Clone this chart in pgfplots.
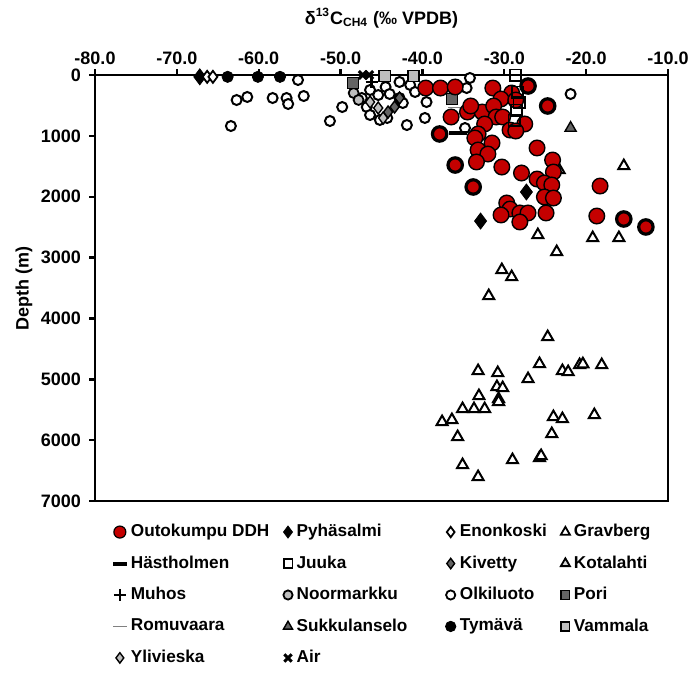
\documentclass[border=0pt]{standalone}
\usepackage{fontspec}
\setmainfont{Liberation Sans}
\usepackage{pgfplots}
\pgfplotsset{compat=1.18}
\definecolor{redc}{RGB}{196,0,0}
\definecolor{dgray}{RGB}{100,100,100}
\definecolor{lgray}{RGB}{190,190,190}
\definecolor{vlgray}{RGB}{215,215,215}
\begin{document}
\begin{tikzpicture}
\begin{axis}[
  scale only axis, width=286.5pt, height=213pt,
  xmin=-80, xmax=-10, ymin=0, ymax=7000, y dir=reverse,
  xtick={-80,-70,-60,-50,-40,-30,-20,-10},
  xticklabels={-80.0,-70.0,-60.0,-50.0,-40.0,-30.0,-20.0,-10.0},
  xticklabel pos=upper, xtick pos=upper,
  ytick={0,1000,2000,3000,4000,5000,6000,7000},
  yticklabels={0,1000,2000,3000,4000,5000,6000,7000},
  ytick pos=left,
  tick align=outside, major tick length=3pt,
  axis line style={line width=1.2pt},
  every tick/.style={black, line width=1.2pt},
  ticklabel style={font=\bfseries\fontsize{9}{10}\selectfont, inner sep=1pt},
  xticklabel style={yshift=1pt},
  yticklabel style={xshift=-2.8pt},
  xlabel={δ\textsuperscript{13}C\textsubscript{CH4} (‰ VPDB)},
  ylabel={Depth (m)},
  label style={font=\bfseries\fontsize{9}{10}\selectfont},
  xlabel style={yshift=7.5pt},
  ylabel style={yshift=-0.2pt},
  clip=false,
  legend columns=4,
  legend cell align=left,
  legend style={draw=none, fill=none, at={(0.02,-0.035)}, anchor=north west,
    font=\bfseries\fontsize{8.6}{10}\selectfont,
    /tikz/every even column/.append style={column sep=5pt},
    row sep=4pt},
]
% legend images
\addlegendimage{only marks, mark=*, mark size=3pt, mark options={fill=redc, draw=black, line width=0.6pt}}
\addlegendentry{Outokumpu DDH}
\addlegendimage{only marks, mark=diamond*, mark size=3pt, mark options={fill=black, draw=black}}
\addlegendentry{Pyhäsalmi}
\addlegendimage{only marks, mark=diamond*, mark size=2.6pt, mark options={fill=white, draw=black, line width=0.9pt}}
\addlegendentry{Enonkoski}
\addlegendimage{only marks, mark=triangle*, mark size=2.6pt, mark options={fill=white, draw=black, line width=0.9pt}}
\addlegendentry{Gravberg}
\addlegendimage{only marks, mark=-, mark size=3.5pt, mark options={draw=black, line width=2pt}}
\addlegendentry{Hästholmen}
\addlegendimage{only marks, mark=square*, mark size=2.2pt, mark options={fill=white, draw=black, line width=0.9pt}}
\addlegendentry{Juuka}
\addlegendimage{only marks, mark=diamond*, mark size=2.6pt, mark options={fill=dgray, draw=black, line width=0.7pt}}
\addlegendentry{Kivetty}
\addlegendimage{only marks, mark=triangle*, mark size=2.6pt, mark options={fill=vlgray, draw=black, line width=0.9pt}}
\addlegendentry{Kotalahti}
\addlegendimage{only marks, mark=+, mark size=3pt, mark options={draw=black, line width=1.3pt}}
\addlegendentry{Muhos}
\addlegendimage{only marks, mark=*, mark size=2.3pt, mark options={fill=lgray, draw=black, line width=0.9pt}}
\addlegendentry{Noormarkku}
\addlegendimage{only marks, mark=*, mark size=2.3pt, mark options={fill=white, draw=black, line width=0.9pt}}
\addlegendentry{Olkiluoto}
\addlegendimage{only marks, mark=square*, mark size=2.2pt, mark options={fill=dgray, draw=black, line width=0.7pt}}
\addlegendentry{Pori}
\addlegendimage{only marks, mark=-, mark size=3.5pt, mark options={draw=gray, line width=0.5pt}}
\addlegendentry{Romuvaara}
\addlegendimage{only marks, mark=triangle*, mark size=2.6pt, mark options={fill=dgray, draw=black, line width=0.7pt}}
\addlegendentry{Sukkulanselo\hspace*{12pt}}
\addlegendimage{only marks, mark=*, mark size=2.6pt, mark options={fill=black, draw=black}}
\addlegendentry{Tymävä}
\addlegendimage{only marks, mark=square*, mark size=2.2pt, mark options={fill=lgray, draw=black, line width=0.7pt}}
\addlegendentry{Vammala}
\addlegendimage{only marks, mark=diamond*, mark size=2.6pt, mark options={fill=lgray, draw=black, line width=0.7pt}}
\addlegendentry{Ylivieska}
\addlegendimage{only marks, mark=x, mark size=2.6pt, mark options={draw=black, line width=1.5pt}}
\addlegendentry{Air}

% Olkiluoto
\addplot[forget plot, only marks, mark=*, mark size=2.5pt, mark options={fill=white, draw=black, line width=1pt}] coordinates {
(-55.2,82) (-62.7,411) (-61.4,361) (-58.3,378) (-56.6,378) (-56.4,476) (-54.5,345)
(-63.4,838) (-49.8,526) (-51.3,756) (-46.8,526) (-46.4,657) (-44.5,197) (-44.0,312)
(-42.8,115) (-41.5,164) (-40.9,279) (-41.9,822) (-39.7,706) (-39.5,444) (-45.2,739)
(-44.3,706) (-47.4,378) (-46.4,246) (-45.4,329) (-42.8,378) (-42.4,460) (-34.2,49)
(-34.6,214) (-34.8,871) (-21.9,312)
};
% Noormarkku
\addplot[forget plot, only marks, mark=*, mark size=2.5pt, mark options={fill=lgray, draw=black, line width=0.9pt}] coordinates {
(-48.4,296) (-47.8,410)
};
% Ylivieska
\addplot[forget plot, only marks, mark=diamond*, mark size=3pt, mark options={fill=lgray, draw=black, line width=0.7pt}] coordinates {
(-45.4,542) (-44.8,706) (-46.4,444)
};
% Kivetty
\addplot[forget plot, only marks, mark=diamond*, mark size=3pt, mark options={fill=dgray, draw=black, line width=0.7pt}] coordinates {
(-43.4,526) (-42.8,378) (-44.2,608)
};
% Pori
\addplot[forget plot, only marks, mark=square*, mark size=2.8pt, mark options={fill=dgray, draw=black, line width=0.7pt}] coordinates {
(-48.5,131) (-36.4,394)
};
% Vammala
\addplot[forget plot, only marks, mark=square*, mark size=2.8pt, mark options={fill=lgray, draw=black, line width=0.7pt}] coordinates {
(-44.6,16) (-41.1,16)
};
% Gravberg
\addplot[forget plot, only marks, mark=triangle*, mark size=3.2pt, mark options={fill=white, draw=black, line width=1pt}] coordinates {
(-25.9,2629) (-19.2,2678) (-16.0,2678) (-23.6,2908) (-30.3,3204) (-29.1,3319) (-31.9,3631)
(-24.7,4305) (-33.2,4863) (-30.8,4896) (-25.7,4748) (-27.1,4995) (-22.9,4863) (-22.2,4880)
(-20.8,4765) (-20.4,4750) (-18.1,4765) (-30.9,5126) (-30.2,5143) (-33.1,5274) (-30.7,5323)
(-30.7,5370) (-35.1,5488) (-33.7,5488) (-32.4,5488) (-37.6,5701) (-36.4,5668) (-35.7,5948)
(-24.0,5619) (-22.9,5652) (-19.0,5586) (-24.2,5898) (-29.0,6326) (-25.7,6293) (-25.5,6260)
(-35.1,6408) (-33.2,6605) (-15.4,1495)
};
% Kotalahti
\addplot[forget plot, only marks, mark=triangle*, mark size=3.2pt, mark options={fill=vlgray, draw=black, line width=1pt}] coordinates {
(-23.3,1561)
};
% Sukkulanselo
\addplot[forget plot, only marks, mark=triangle*, mark size=3.2pt, mark options={fill=dgray, draw=black, line width=0.7pt}] coordinates {
(-21.9,871)
};
% Romuvaara
\addplot[forget plot, only marks, mark=-, mark size=4.5pt, mark options={draw=gray, line width=0.5pt}] coordinates {
(-35.8,542)
};
% Outokumpu DDH
\addplot[forget plot, only marks, mark=*, mark size=3.9pt, mark options={fill=redc, draw=black, line width=0.7pt}] coordinates {
(-39.6,214) (-37.8,214) (-36.0,197) (-31.4,214) (-29.1,296) (-30.4,394) (-28.6,411)
(-36.5,690) (-34.5,608) (-32.7,608) (-31.3,509) (-34.1,509) (-31.0,690) (-30.2,690)
(-32.4,805) (-27.5,805) (-29.3,904) (-28.6,920) (-33.2,969) (-33.6,1035) (-31.5,1117)
(-26.0,1199) (-33.2,1232) (-32.0,1298) (-24.1,1397) (-24.0,1594) (-33.4,1429) (-30.3,1512)
(-27.9,1610) (-26.0,1709) (-25.1,1774) (-24.2,1807) (-25.1,2004) (-24.0,2021) (-29.7,2103)
(-29.3,2202) (-30.4,2300) (-28.1,2267) (-27.1,2267) (-28.1,2415) (-24.9,2267) (-18.3,1824)
(-18.7,2317)
};
\addplot[forget plot, only marks, mark=*, mark size=3.6pt, mark options={fill=redc, draw=black, line width=1.6pt}] coordinates {
(-24.7,509) (-37.9,969) (-36.0,1479) (-33.8,1840) (-15.4,2366) (-12.7,2497) (-27.1,181)
};
% Juuka
\addplot[forget plot, only marks, mark=square, mark size=2.8pt, mark options={draw=black, line width=0.9pt}] coordinates {
(-28.6,0) (-28.4,280) (-28.2,444) (-28.5,575) (-28.8,740)
};
% Hastholmen
\addplot[forget plot, only marks, mark=-, mark size=4.5pt, mark options={draw=black, line width=2.2pt}] coordinates {
(-35.7,953)
};
% Pyhasalmi
\addplot[forget plot, only marks, mark=diamond*, mark size=4pt, mark options={fill=black, draw=black}] coordinates {
(-27.3,1922) (-32.9,2399) (-67.2,30)
};
% Enonkoski
\addplot[forget plot, only marks, mark=diamond*, mark size=3pt, mark options={fill=white, draw=black, line width=0.9pt}] coordinates {
(-66.3,30) (-65.6,30)
};
% Tymava
\addplot[forget plot, only marks, mark=*, mark size=2.8pt, mark options={fill=black, draw=black}] coordinates {
(-63.8,30) (-60.1,30) (-57.4,30)
};
% Muhos
\addplot[forget plot, only marks, mark=+, mark size=3pt, mark options={draw=black, line width=1.3pt}] coordinates {
(-46.2,115)
};
% Air
\addplot[forget plot, only marks, mark=x, mark size=2.8pt, mark options={draw=black, line width=1.5pt}] coordinates {
(-47.3,0) (-46.5,0)
};
\end{axis}
\path (current axis.south west) ++(-47.5pt,-81.5pt);
\path (current axis.north east) ++(15.5pt,37.5pt);
\end{tikzpicture}
\end{document}
